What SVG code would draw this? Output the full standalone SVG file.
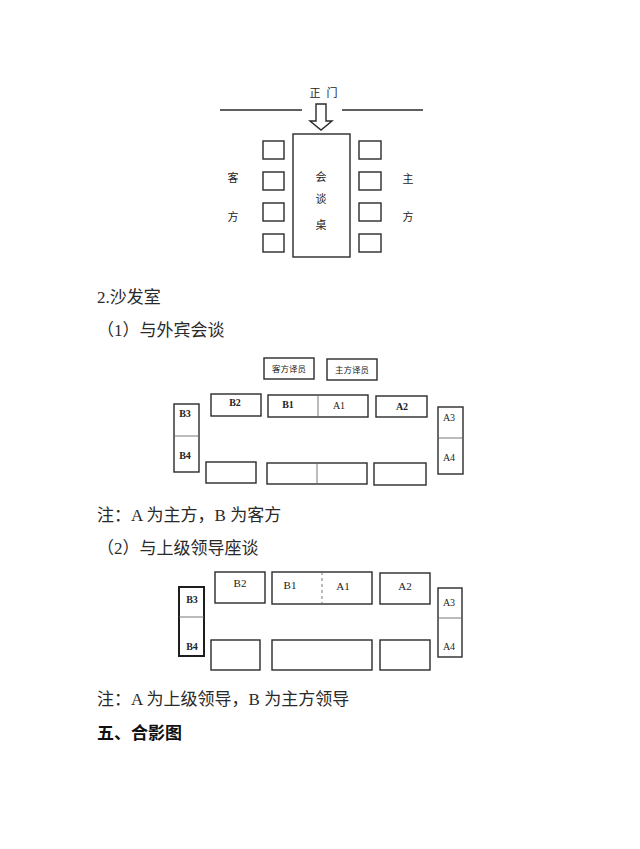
<svg xmlns="http://www.w3.org/2000/svg" width="640" height="849" viewBox="0 0 640 849">
<style>
.bg{fill:#ffffff}
.box{fill:#ffffff;stroke:#2a2a2a;stroke-width:1.4}
.thick{fill:#ffffff;stroke:#1e1e1e;stroke-width:2}
.div{stroke:#6a6a6a;stroke-width:0.9;fill:none}
.wall{stroke:#2a2a2a;stroke-width:1.3;fill:none}
.body{font-family:"Liberation Serif","Noto Sans CJK SC",serif;font-size:17px;fill:#2a2a2a}
.head{font-family:"Noto Sans CJK SC",sans-serif;font-size:17px;font-weight:bold;fill:#111}
.cj{font-family:"Noto Sans CJK SC",sans-serif;font-size:11px;fill:#222;text-anchor:middle}
.sm{font-family:"Noto Sans CJK SC",sans-serif;font-size:8.5px;fill:#222;text-anchor:middle}
.lb{font-family:"Liberation Serif",serif;font-size:10px;font-weight:bold;fill:#222;text-anchor:middle}
.lbn{font-family:"Liberation Serif",serif;font-size:10px;fill:#222;text-anchor:middle}
.lb3{font-family:"Liberation Serif",serif;font-size:11px;fill:#222;text-anchor:middle}
</style>
<rect class="bg" x="0" y="0" width="640" height="849"/>

<!-- Diagram 1: meeting room -->
<g id="connectors">
  <line class="wall" x1="220" y1="110" x2="302" y2="110"/>
  <line class="wall" x1="342" y1="110" x2="423" y2="110"/>
  <polygon class="box" points="316,104 326,104 326,121 332,121 321,130 310,121 316,121"/>
</g>
<g id="door"><text class="cj" x="315" y="97">正</text><text class="cj" x="332" y="97">门</text></g>
<g id="table1">
  <rect class="box" x="293" y="134" width="57" height="123"/>
  <text class="cj" x="321" y="181">会</text>
  <text class="cj" x="321" y="203">谈</text>
  <text class="cj" x="321" y="229">桌</text>
</g>
<g id="guest-chairs">
  <rect class="box" x="263" y="141" width="21" height="18"/>
  <rect class="box" x="263" y="172" width="21" height="18"/>
  <rect class="box" x="263" y="203" width="21" height="18"/>
  <rect class="box" x="263" y="234" width="21" height="18"/>
</g>
<g id="host-chairs">
  <rect class="box" x="359" y="141" width="22" height="18"/>
  <rect class="box" x="359" y="172" width="22" height="18"/>
  <rect class="box" x="359" y="203" width="22" height="18"/>
  <rect class="box" x="359" y="234" width="22" height="18"/>
</g>
<g id="guest-label"><text class="cj" x="233" y="182">客</text><text class="cj" x="233" y="221">方</text></g>
<g id="host-label"><text class="cj" x="408" y="183">主</text><text class="cj" x="408" y="221">方</text></g>

<text class="body" x="97" y="303">2.沙发室</text>
<text class="body" x="97" y="336">（1）与外宾会谈</text>

<!-- Diagram 2 -->
<g id="d2-guest-interp"><rect class="box" x="264" y="358" width="50" height="21"/><text class="sm" x="289" y="372">客方译员</text></g>
<g id="d2-host-interp"><rect class="box" x="327" y="359" width="50" height="21"/><text class="sm" x="352" y="373">主方译员</text></g>
<g id="d2-B2"><rect class="box" x="211" y="394" width="50" height="22"/><text class="lb" x="235" y="406">B2</text></g>
<g id="d2-B1A1"><rect class="box" x="268" y="395" width="100" height="22"/><line class="div" x1="318" y1="395" x2="318" y2="417"/><text class="lb" x="288" y="408">B1</text><text class="lbn" x="339" y="409">A1</text></g>
<g id="d2-A2"><rect class="box" x="376" y="396" width="51" height="21"/><text class="lb" x="402" y="410">A2</text></g>
<g id="d2-B3B4"><rect class="box" x="174" y="404" width="25" height="68"/><line class="div" x1="174" y1="436" x2="199" y2="436"/><text class="lb" x="185" y="417">B3</text><text class="lb" x="185" y="459">B4</text></g>
<g id="d2-A3A4"><rect class="box" x="438" y="407" width="25" height="67"/><line class="div" x1="438" y1="438" x2="463" y2="438"/><text class="lbn" x="449" y="421">A3</text><text class="lbn" x="449" y="461">A4</text></g>
<g id="d2-bottom-left"><rect class="box" x="206" y="462" width="50" height="21"/></g>
<g id="d2-bottom-mid"><rect class="box" x="267" y="463" width="100" height="21"/><line class="div" x1="317" y1="463" x2="317" y2="484"/></g>
<g id="d2-bottom-right"><rect class="box" x="374" y="463" width="52" height="22"/></g>

<text class="body" x="97" y="521">注：A 为主方，B 为客方</text>
<text class="body" x="97" y="554">（2）与上级领导座谈</text>

<!-- Diagram 3 -->
<g id="d3-B2"><rect class="box" x="215" y="572" width="50" height="31"/><text class="lb3" x="240" y="587">B2</text></g>
<g id="d3-B1A1"><rect class="box" x="272" y="572" width="100" height="32"/><line class="div" x1="322" y1="572" x2="322" y2="604" stroke-dasharray="3,3"/><text class="lb3" x="290" y="589">B1</text><text class="lb3" x="343" y="590">A1</text></g>
<g id="d3-A2"><rect class="box" x="380" y="573" width="50" height="31"/><text class="lb3" x="405" y="590">A2</text></g>
<g id="d3-B3B4"><rect class="thick" x="179" y="587" width="25" height="69"/><line class="div" x1="179" y1="617" x2="204" y2="617"/><text class="lb" x="192" y="603">B3</text><text class="lb" x="192" y="650">B4</text></g>
<g id="d3-A3A4"><rect class="box" x="438" y="588" width="24" height="69"/><line class="div" x1="438" y1="618" x2="462" y2="618"/><text class="lbn" x="449" y="606">A3</text><text class="lbn" x="449" y="650">A4</text></g>
<g id="d3-bottom-left"><rect class="box" x="211" y="640" width="49" height="30"/></g>
<g id="d3-bottom-mid"><rect class="box" x="272" y="640" width="100" height="30"/></g>
<g id="d3-bottom-right"><rect class="box" x="380" y="640" width="50" height="30"/></g>

<text class="body" x="97" y="705">注：A 为上级领导，B 为主方领导</text>
<text class="head" x="97" y="739">五、合影图</text>
</svg>
